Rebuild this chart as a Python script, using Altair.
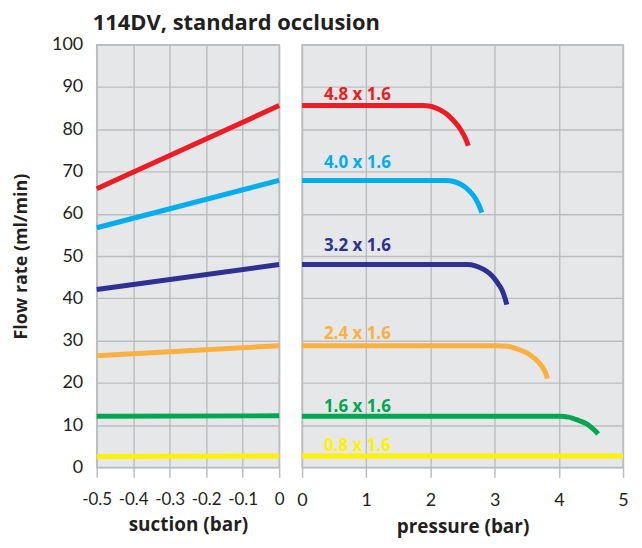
import altair as alt
import pandas as pd

series = ["4.8 x 1.6", "4.0 x 1.6", "3.2 x 1.6", "2.4 x 1.6", "1.6 x 1.6", "0.8 x 1.6"]
colors = ["#ED1C24", "#00AEEF", "#2E3192", "#FBB040", "#00A651", "#FFF200"]

# suction panel: flow at -0.5 bar and 0 bar
suction_x = [-0.5, 0.0]
suction_48 = [65.9, 85.6]
suction_40 = [56.7, 67.9]
suction_32 = [42.1, 48.0]
suction_24 = [26.4, 28.8]
suction_16 = [12.1, 12.2]
suction_08 = [2.6, 2.7]

# pressure panel
press_48_x = [0.0, 1.88, 1.98, 2.07, 2.17, 2.27, 2.35, 2.42, 2.49, 2.53, 2.56, 2.59]
press_48_y = [85.6, 85.6, 85.5, 85.1, 84.4, 83.4, 82.2, 81.0, 79.4, 78.3, 77.3, 76.1]
press_40_x = [0.0, 2.25, 2.35, 2.47, 2.55, 2.62, 2.68, 2.73, 2.77, 2.80]
press_40_y = [67.9, 67.9, 67.7, 67.0, 66.2, 65.2, 64.1, 62.8, 61.5, 60.3]
press_32_x = [0.0, 2.57, 2.7, 2.82, 2.92, 3.0, 3.07, 3.12, 3.16, 3.19]
press_32_y = [48.0, 48.0, 47.7, 46.9, 45.9, 44.6, 43.1, 41.8, 40.1, 38.5]
press_24_x = [0.0, 3.02, 3.2, 3.37, 3.5, 3.62, 3.7, 3.77, 3.8, 3.82]
press_24_y = [28.8, 28.8, 28.65, 27.9, 27.1, 25.8, 24.6, 23.1, 22.1, 21.0]
press_16_x = [0.0, 4.01, 4.15, 4.31, 4.42, 4.51, 4.57, 4.61]
press_16_y = [12.1, 12.1, 11.9, 11.1, 10.4, 9.4, 8.6, 7.9]
press_08_x = [0.0, 5.0]
press_08_y = [2.7, 2.7]

label_x = [0.34, 0.34, 0.34, 0.34, 0.34, 0.34]
label_y = [88.0, 71.9, 52.3, 31.5, 14.4, 5.1]

suction_sets = [suction_48, suction_40, suction_32, suction_24, suction_16, suction_08]
press_sets = [(press_48_x, press_48_y), (press_40_x, press_40_y), (press_32_x, press_32_y),
              (press_24_x, press_24_y), (press_16_x, press_16_y), (press_08_x, press_08_y)]

left_rows = []
for s, ys in zip(series, suction_sets):
    for i, (x, y) in enumerate(zip(suction_x, ys)):
        left_rows.append({"series": s, "suction": x, "flow": y, "order": i})
left_df = pd.DataFrame(left_rows)

right_rows = []
for s, (xs, ys) in zip(series, press_sets):
    for i, (x, y) in enumerate(zip(xs, ys)):
        right_rows.append({"series": s, "pressure": x, "flow": y, "order": i})
right_df = pd.DataFrame(right_rows)

label_df = pd.DataFrame({"series": series, "pressure": label_x, "flow": label_y})

color = alt.Color("series:N", scale=alt.Scale(domain=series, range=colors), legend=None)
yvals = list(range(0, 101, 10))

LATO = "Lato"
OPEN = "Open Sans"
H = 424

left = alt.Chart(left_df).mark_line(strokeWidth=5, strokeCap="butt").encode(
    x=alt.X("suction:Q", scale=alt.Scale(domain=[-0.5, 0], nice=False),
            axis=alt.Axis(values=[-0.5, -0.4, -0.3, -0.2, -0.1, 0],
                          labelExpr="datum.value == 0 ? '0' : '-' + format(abs(datum.value), '.1f')",
                          title="suction (bar)", labelFontSize=17, labelOverlap=False,
                          labelFlush=False)),
    y=alt.Y("flow:Q", scale=alt.Scale(domain=[0, 100], nice=False),
            axis=alt.Axis(values=yvals, title="Flow rate (ml/min)", ticks=False,
                          labelPadding=14, titlePadding=21, titleFontSize=18)),
    color=color,
    order="order:Q",
).properties(width=183, height=H)

right_lines = alt.Chart(right_df).mark_line(strokeWidth=5, strokeCap="butt", interpolate="monotone").encode(
    x=alt.X("pressure:Q", scale=alt.Scale(domain=[0, 5], nice=False),
            axis=alt.Axis(values=[0, 1, 2, 3, 4, 5], format="d", title="pressure (bar)",
                          labelOverlap=False, labelFlush=False)),
    y=alt.Y("flow:Q", scale=alt.Scale(domain=[0, 100], nice=False),
            axis=alt.Axis(values=yvals, labels=False, ticks=False, title=None,
                          labelPadding=0, minExtent=0, maxExtent=0)),
    color=color,
    order="order:Q",
)

right_text = alt.Chart(label_df).mark_text(align="left", baseline="middle", fontWeight="bold",
                                           fontSize=17, font=OPEN).encode(
    x="pressure:Q",
    y="flow:Q",
    text="series:N",
    color=color,
)

right = alt.layer(right_lines, right_text).properties(width=322, height=H)

chart = alt.hconcat(left, right, spacing=1).properties(
    title=alt.TitleParams("114DV, standard occlusion", anchor="start", fontSize=22,
                          font=OPEN, fontWeight="bold", color="#231F20",
                          frame="bounds", dx=81, offset=0),
    padding={"left": 3, "top": 3, "right": 0, "bottom": 0},
).configure_view(
    fill="#E6E7E8", stroke="#BCBDC0", strokeWidth=1.5
).configure_axis(
    grid=True, gridColor="#BCBDC0", gridWidth=1.4, domain=False,
    tickColor="#BCBDC0", tickSize=10, tickWidth=1.5,
    labelColor="#231F20", titleColor="#231F20",
    labelFont=LATO, titleFont=OPEN,
    labelFontSize=18, titleFontSize=19, titleFontWeight="bold",
    labelPadding=14, titlePadding=8,
).configure_concat(spacing=1)

chart.save("out.html", embed_options={"renderer": "svg", "actions": False})
